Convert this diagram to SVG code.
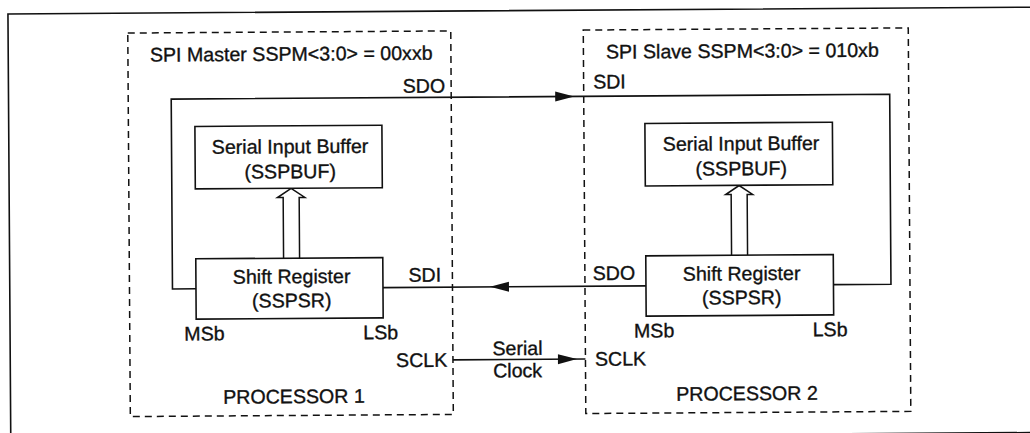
<svg xmlns="http://www.w3.org/2000/svg" width="1030" height="433" viewBox="0 0 1030 433">
<style>
text{font-family:"Liberation Sans",Arial,Helvetica,sans-serif;font-size:19.6px;fill:#111;stroke:#111;stroke-width:0.35}
.box{fill:#fff;stroke:#111;stroke-width:1.6}
.dash{fill:none;stroke:#111;stroke-width:1.5;stroke-dasharray:7 5}
.wire{fill:none;stroke:#111;stroke-width:1.6}
.hollow{fill:#fff;stroke:#111;stroke-width:1.5;stroke-linejoin:miter}
.mid{text-anchor:middle}
.end{text-anchor:end}
</style>
<defs>
<path id="ah" d="M0,0 L-19,-5 L-19,5 Z" fill="#111"/>
</defs>
<rect width="1030" height="433" fill="#fff"/>
<g transform="rotate(-0.38 515 216)">
<rect id="frame" x="9.3" y="10.6" width="1045" height="425.4" fill="none" stroke="#111" stroke-width="1.6"/>

<g id="processor1">
<rect class="dash" x="129" y="30.5" width="323" height="383.5"/>
<text x="151" y="59.2">SPI Master SSPM&lt;3:0&gt; = 00xxb</text>
<text class="mid" x="292.8" y="401.8">PROCESSOR 1</text>
<text class="end" x="446" y="92.1">SDO</text>
<text x="408" y="281.1">SDI</text>
<text x="183.5" y="338.3">MSb</text>
<text x="362.5" y="338.3">LSb</text>
<text class="end" x="446.3" y="366.3">SCLK</text>
</g>

<g id="processor2">
<rect class="dash" x="584.5" y="30.5" width="325" height="383.5"/>
<text x="607" y="59.2">SPI Slave SSPM&lt;3:0&gt; = 010xb</text>
<text class="mid" x="745.8" y="401.8">PROCESSOR 2</text>
<text x="594" y="89">SDI</text>
<text x="592.3" y="280.5">SDO</text>
<text x="633.2" y="338.3">MSb</text>
<text x="811.9" y="338.3">LSb</text>
<text x="594" y="366.3">SCLK</text>
</g>

<g id="connectors">
<path class="wire" d="M195.5,286.7 H172 V96.8 H890.5 V286.7 H833"/>
<path class="wire" d="M382.3,286.7 H645.5"/>
<path class="wire" d="M452,359.5 H584.5"/>
<use href="#ah" transform="translate(575,96.8)"/>
<use href="#ah" transform="translate(489.5,286.7) rotate(180)"/>
<use href="#ah" transform="translate(576,359.5)"/>
<path class="hollow" d="M283.3,256.7 V196 H277.6 L291.3,187 L305,196 H299.3 V256.7"/>
<path class="hollow" d="M731.3,256.7 V196 H725.8 L739.3,187 L752.8,196 H747.3 V256.7"/>
<text class="mid" x="516.6" y="355">Serial</text>
<text class="mid" x="516.6" y="377.3">Clock</text>
</g>

<g id="master-buffer">
<rect class="box" x="195.5" y="124.3" width="187" height="62.5"/>
<text class="mid" x="290.5" y="151.8">Serial Input Buffer</text>
<text class="mid" x="290.5" y="176.8">(SSPBUF)</text>
</g>
<g id="master-shift">
<rect class="box" x="195.5" y="256.7" width="187" height="60.3"/>
<text class="mid" x="291.2" y="281.8">Shift Register</text>
<text class="mid" x="291.2" y="305.8">(SSPSR)</text>
</g>
<g id="slave-buffer">
<rect class="box" x="645.5" y="124.3" width="187.5" height="62.5"/>
<text class="mid" x="741.5" y="151.8">Serial Input Buffer</text>
<text class="mid" x="741.5" y="176.8">(SSPBUF)</text>
</g>
<g id="slave-shift">
<rect class="box" x="645.5" y="256.7" width="187.5" height="60.3"/>
<text class="mid" x="741.2" y="281.8">Shift Register</text>
<text class="mid" x="741.2" y="305.8">(SSPSR)</text>
</g>
</g>
</svg>
